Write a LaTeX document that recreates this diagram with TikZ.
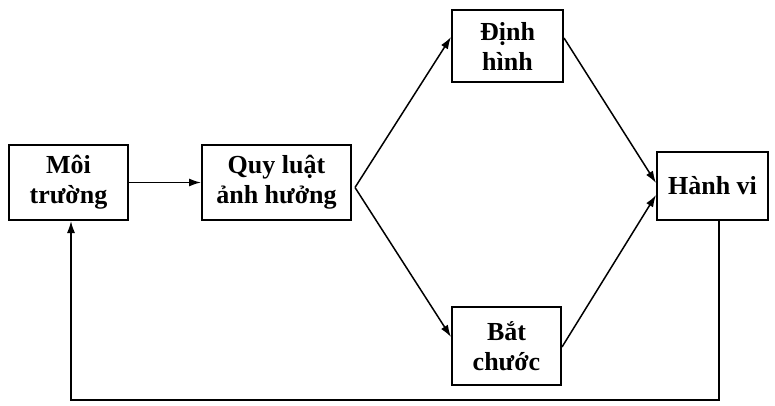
\documentclass[tikz,border=0pt]{standalone}
\usepackage{fontspec}
\setmainfont{Liberation Serif}
\usetikzlibrary{arrows.meta}

\tikzset{
  khoi/.style={draw, line width=2pt, inner sep=0pt, align=center,
    font=\fontsize{26}{30}\selectfont\bfseries},
  muiten/.style={-{Latex[length=12pt,width=8pt]}, line width=1.5pt},
}

\begin{document}
\begin{tikzpicture}[x=1pt,y=-1pt]
\useasboundingbox (0,0) rectangle (775,406);

% Cac khoi
\node[khoi, minimum width=119pt, minimum height=75pt] (moi) at (68.5,182.5) {Môi\\trường};
\node[khoi, minimum width=149pt, minimum height=75pt] (quyluat) at (276.5,182.5) {Quy luật\\ảnh hưởng};
\node[khoi, minimum width=111pt, minimum height=72pt] (dinh) at (507.5,46) {Định\\hình};
\node[khoi, minimum width=109pt, minimum height=78pt] (bat) at (506.5,346) {Bắt\\chước};
\node[khoi, minimum width=111pt, minimum height=68pt] (hanh) at (712.5,186) {Hành vi};

% Diem re nhanh va duong vong ve
\coordinate (re) at ([shift={(3pt,-5pt)}]quyluat.east);
\coordinate (day) at (0,400);
\coordinate (ra) at ([xshift=6.5pt]hanh.south);
\coordinate (vao) at ([xshift=2.5pt]moi.south);

% Mui ten
\draw[muiten] (moi) -- (quyluat);
\draw[muiten] (re) -- ([yshift=9pt]dinh.west);
\draw[muiten] (re) -- ([yshift=9pt]bat.west);
\draw[muiten] ([yshift=8pt]dinh.east) -- ([yshift=3pt]hanh.west);
\draw[muiten] ([yshift=-1pt]bat.east) -- ([yshift=-9pt]hanh.west);
\draw[muiten] (ra) |- (vao |- day) -- (vao);
\end{tikzpicture}
\end{document}
